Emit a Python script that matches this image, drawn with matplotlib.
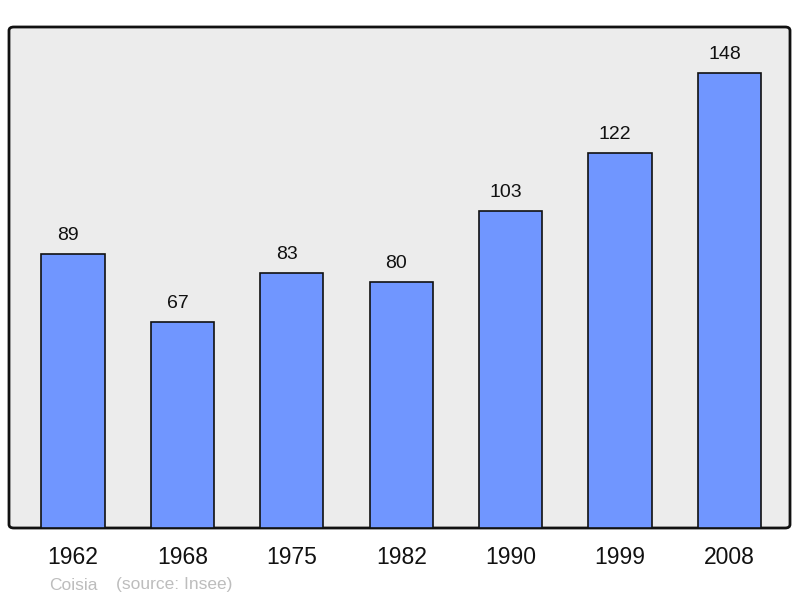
import matplotlib.pyplot as plt
from matplotlib.patches import FancyBboxPatch

years = ['1962', '1968', '1975', '1982', '1990', '1999', '2008']
population = [89, 67, 83, 80, 103, 122, 148]

W, H = 800, 598
fig = plt.figure(figsize=(W / 100, H / 100), dpi=100)
plt.rcParams['font.family'] = ['Liberation Sans', 'DejaVu Sans']

# panel in pixel coords: left 9, right 790, top 27, bottom 528
left, right, top, bottom = 9, 790, 27, 528
ax = fig.add_axes([left / W, 1 - bottom / H, (right - left) / W, (bottom - top) / H])
ax.set_facecolor('none')
for s in ax.spines.values():
    s.set_visible(False)

panel = FancyBboxPatch((left / W, 1 - bottom / H), (right - left) / W, (bottom - top) / H,
                       boxstyle='round,pad=0,rounding_size=0.006', transform=fig.transFigure,
                       facecolor='#ececec', edgecolor='#111111', linewidth=2, zorder=-1)
fig.patches.append(panel)

xs = list(range(len(years)))
ax.bar(xs, population, width=0.576, color='#7096ff', edgecolor='#111111', linewidth=1.2, zorder=2)
for x, v in zip(xs, population):
    ax.annotate(str(v), (x, v), xytext=(-3.6, 10.3), textcoords='offset points',
                ha='center', va='baseline', fontsize=14, color='#111111')

ax.set_xlim(-0.585, 6.554)
ax.set_ylim(0, 163)
ax.set_yticks([])
ax.set_xticks(xs)
ax.set_xticklabels(years, fontsize=16.5, color='#111111')
ax.tick_params(axis='x', length=0, pad=13)

fig.text(49 / W, 1 - 585 / H, 'Coisia', fontsize=12.5, color='#bdbdbd', va='center', ha='left')
fig.text(116 / W, 1 - 585 / H, '(source: Insee)', fontsize=12.5, color='#bdbdbd', va='center', ha='left')

fig.savefig('out.png', dpi=100)
